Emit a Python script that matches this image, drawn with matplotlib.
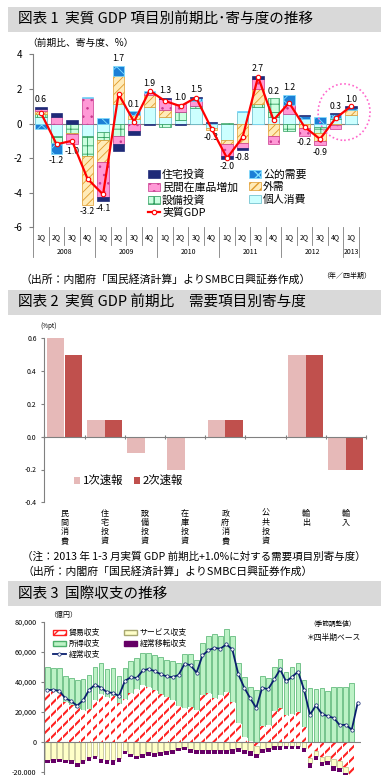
import matplotlib.pyplot as plt
import matplotlib.patches as mpatches
from matplotlib.lines import Line2D
import numpy as np

plt.rcParams['font.family'] = ['Noto Sans CJK JP', 'DejaVu Sans']
plt.rcParams['axes.unicode_minus'] = False

# ---- 図表1: 実質GDP 項目別寄与度 (2008Q1-2013Q1) ----
quarters = ['1Q', '2Q', '3Q', '4Q'] * 5 + ['1Q']
years = ['2008', '2009', '2010', '2011', '2012', '2013']
gdp = [0.6, -1.2, -1.0, -3.2, -4.1, 1.7, 0.1, 1.9, 1.3, 1.0, 1.5,
       -0.3, -2.0, -0.8, 2.7, 0.2, 1.2, -0.2, -0.9, 0.3, 1.0]
consumption = [0.40, -0.70, 0.00, -0.70, -0.50, 1.15, 0.25, 0.95, 0.35, 0.20, 0.90,
               -0.25, -0.95, 0.65, 0.95, 0.40, 0.55, 0.25, -0.20, 0.25, 0.50]
capex = [0.15, -0.45, -0.55, -1.15, -0.45, -0.70, 0.00, 0.00, -0.20, 0.45, 0.10,
         0.00, 0.05, 0.00, 0.20, 1.05, -0.45, 0.00, -0.35, 0.05, 0.00]
net_exports = [0.20, 0.00, -0.05, -2.85, -1.25, 1.60, 0.25, 0.70, 0.45, 0.00, 0.00,
               -0.15, -0.25, -1.10, 0.85, -0.70, 0.00, -0.25, -0.45, -0.10, 0.30]
inventory = [0.10, 0.35, -0.60, 1.50, -2.05, -0.50, -0.45, 0.10, 0.60, 0.45, 0.30,
             0.00, -0.70, -0.30, 0.60, -0.50, 0.50, -0.45, -0.25, -0.20, 0.00]
public = [-0.30, -0.60, 0.00, 0.05, 0.30, 0.60, 0.20, 0.15, 0.00, -0.05, 0.20,
          0.05, 0.00, 0.10, -0.05, 0.00, 0.60, 0.20, 0.35, 0.25, 0.10]
housing = [0.10, 0.25, 0.20, 0.00, -0.25, -0.40, -0.20, -0.10, 0.10, -0.05, 0.05,
           0.05, -0.15, -0.15, 0.15, 0.00, 0.00, 0.05, 0.00, 0.05, 0.10]

# ---- 図表2: 需要項目別寄与度 ----
items = ['民間消費', '住宅投資', '設備投資', '在庫投資', '政府消費', '公共投資', '輸出', '輸入']
prelim = [0.6, 0.1, -0.1, -0.2, 0.1, 0.0, 0.5, -0.2]
revised = [0.5, 0.1, 0.0, 0.0, 0.1, 0.0, 0.5, -0.2]

# ---- 図表3: 国際収支 (2000Q1-2012Q4, 経常収支は2013Q1まで) ----
trade = [34400, 34000, 32700, 26700, 24400, 22700, 21100, 21600, 27800, 31800,
         30000, 30400, 25600, 28200, 32200, 34900, 37800, 36700, 34400, 31800,
         30000, 27800, 23800, 22200, 23300, 21100, 31100, 32200, 28900, 31100,
         32900, 26700, 12200, 3300, 500, -2900, 10400, 11100, 20700, 22700,
         17800, 18400, 20000, 10000, -11000, -6500, -10000, -9500, -11500, -13000,
         -17000, -23000]
income = [15100, 14900, 16200, 17300, 18300, 18400, 20400, 22800, 22200, 20400,
          18200, 18500, 18400, 20700, 21800, 20600, 21500, 22200, 23400, 24900,
          24400, 26200, 28400, 36200, 35100, 33300, 34900, 38200, 43100, 39300,
          42100, 43700, 40500, 40000, 35700, 34400, 33400, 31600, 28800, 32200,
          28900, 31100, 32200, 31000, 36000, 35100, 36000, 34000, 36700, 36700,
          36200, 38900]
services = [-12200, -11800, -11400, -11900, -12300, -14100, -12400, -10500, -9500, -11500,
            -12000, -12500, -10700, -6200, -8300, -9400, -8500, -6900, -7500, -7100,
            -6500, -5700, -4300, -3500, -4900, -5200, -5300, -5300, -5500, -5200,
            -5500, -5100, -4400, -5500, -6300, -5400, -4900, -4100, -3100, -3000,
            -2800, -2800, -2800, -4000, -3500, -3000, -3500, -3200, -4500, -4800,
            -4000, -4000]
transfers = [-2300, -2500, -2400, -2600, -2700, -2900, -2600, -2500, -2000, -2800,
             -2700, -3000, -2600, -1800, -2200, -2400, -2300, -2600, -2500, -2400,
             -2500, -2300, -2200, -2000, -2600, -2800, -2700, -2900, -3000, -2800,
             -3000, -2900, -2600, -3000, -3200, -2800, -2900, -2600, -2400, -2500,
             -2300, -2200, -2300, -2700, -3000, -2700, -3000, -2800, -3300, -2700,
             -2500, -2500]
current = [34500, 34500, 34000, 29000, 27000, 24000, 27500, 34500, 38000, 36000,
           33000, 32500, 30500, 40500, 43000, 42500, 47500, 48500, 47000, 45000,
           43500, 43000, 44500, 52000, 51000, 46000, 57500, 61000, 62500, 62000,
           64900, 61500, 45000, 36000, 28900, 22500, 36000, 35000, 41500, 48200,
           40200, 43200, 46700, 34800, 18000, 24200, 18500, 17000, 15800, 11000,
           11300, 8000, 26000]

W, H = 387, 775
fig = plt.figure(figsize=(W / 100, H / 100), dpi=100)


def rect(x0, y0, x1, y1):
    # pixel box (top-left origin) -> figure fraction
    return [x0 / W, 1 - y1 / H, (x1 - x0) / W, (y1 - y0) / H]


def put(x, y, s, **kw):
    fig.text(x / W, 1 - y / H, s, **kw)


def title_bar(y0, y1, s):
    fig.add_artist(mpatches.Rectangle((8 / W, 1 - y1 / H), 373 / W, (y1 - y0) / H,
                                      transform=fig.transFigure, facecolor='#D9D9D9',
                                      edgecolor='none', zorder=0))
    put(18, (y0 + y1) / 2, s, fontsize=10.5, va='center')


def hatch_width(bars, w):
    for b in bars:
        try:
            b.set_hatch_linewidth(w)
        except AttributeError:
            pass


# ================= 図表1 =================
title_bar(7, 32, '図表 1  実質 GDP 項目別前期比･寄与度の推移')
put(27, 43, '（前期比、寄与度、%）', fontsize=7, va='center')

ax1 = fig.add_axes(rect(33.3, 54.3, 358.8, 227.3))
x1 = np.arange(len(gdp))
styles = [
    ('個人消費', consumption, dict(facecolor='#CCFFFF', edgecolor='#5FB8C8')),
    ('設備投資', capex, dict(facecolor='#CCFFE0', edgecolor='#2E9E5E', hatch='++')),
    ('外需', net_exports, dict(facecolor='#FFEBB8', edgecolor='#E09A2A', hatch='////')),
    ('民間在庫品増加', inventory, dict(facecolor='#FF99D6', edgecolor='#C8388E', hatch='..')),
    ('公的需要', public, dict(facecolor='#1C7FD6', edgecolor='#7FE0FF', hatch='xx')),
    ('住宅投資', housing, dict(facecolor='#1F2A78', edgecolor='#1F2A78')),
]
pos = np.zeros(len(gdp))
neg = np.zeros(len(gdp))
handles = {}
for name, vals, st in styles:
    v = np.array(vals)
    base = np.where(v >= 0, pos, neg)
    m = v != 0
    bars = ax1.bar(x1[m], v[m], bottom=base[m], width=0.75, linewidth=0.5, zorder=2, **st)
    hatch_width(bars, 0.6)
    pos += np.clip(v, 0, None)
    neg += np.clip(v, None, 0)
    handles[name] = mpatches.Patch(label=name, linewidth=0.5, **st)

ax1.plot(x1, gdp, color='#FF0000', lw=1.6, marker='o', ms=3.2, mfc='white',
         mec='#FF0000', mew=0.8, zorder=5)
handles['実質GDP'] = Line2D([], [], color='#FF0000', lw=1.6, marker='o', ms=3.2,
                          mfc='white', mec='#FF0000', mew=0.8, label='実質GDP')

for i, g in enumerate(gdp):
    if g >= 0:
        ax1.text(i, pos[i] + 0.15, f'{g:.1f}', ha='center', va='bottom', fontsize=6.3)
    else:
        ax1.text(i, neg[i] - 0.15, f'{g:.1f}', ha='center', va='top', fontsize=6.3)

ax1.axhline(0, color='#7F7F7F', lw=0.8, zorder=1)
ax1.set_xlim(-0.5, len(gdp) - 0.5)
ax1.set_ylim(-6, 4)
ax1.set_yticks(range(-6, 5, 2))
ax1.set_xticks([])
ax1.tick_params(axis='y', labelsize=7, length=3, color='#7F7F7F', pad=5)
for s in ['top', 'right', 'bottom']:
    ax1.spines[s].set_visible(False)
ax1.spines['left'].set_color('#7F7F7F')

# category table under the plot
tr = ax1.get_xaxis_transform()
n = len(gdp)
for k in range(n + 1):
    low = -0.172 if (k % 4 == 0 or k == n) else -0.105
    ax1.plot([k - 0.5, k - 0.5], [0, low], transform=tr, color='#7F7F7F', lw=0.6, clip_on=False)
for i, q in enumerate(quarters):
    ax1.text(i, -0.056, q, transform=tr, ha='center', va='center', fontsize=5)
for j, y in enumerate(years):
    span = x1[4 * j: 4 * j + 4]
    ax1.text(span.mean(), -0.143, y, transform=tr, ha='center', va='center', fontsize=5)

ax1.add_patch(mpatches.Ellipse((19.55, 0.66), 3.35, 3.26, fill=False, ec='#FF66CC',
                               ls=(0, (1, 1.5)), lw=1.2, clip_on=False, zorder=6))

order = ['住宅投資', '民間在庫品増加', '設備投資', '実質GDP', '公的需要', '外需', '個人消費']
ax1.legend([handles[k] for k in order], order, ncol=2, loc='upper left',
           bbox_to_anchor=(148 / W, 1 - 169 / H), bbox_transform=fig.transFigure,
           frameon=False, fontsize=7.8, handlelength=1.1, handleheight=0.7,
           handletextpad=0.2, columnspacing=1.0, labelspacing=0.22,
           borderpad=0, borderaxespad=0)

put(322, 275.5, '（年／四半期）', fontsize=5, va='center')
put(20, 280, '（出所：内閣府「国民経済計算」よりSMBC日興証券作成）', fontsize=7.8, va='center')

# ================= 図表2 =================
title_bar(290, 315, '図表 2  実質 GDP 前期比　需要項目別寄与度')
put(40, 325.7, '(%pt)', fontsize=4.5, va='center')

ax2 = fig.add_axes(rect(44.3, 338.3, 366, 502.3))
x2 = np.arange(len(items))
ax2.bar(x2 - 0.22, prelim, 0.435, color='#E6B9B8', label='1次速報', zorder=2)
ax2.bar(x2 + 0.22, revised, 0.435, color='#C0504D', label='2次速報', zorder=2)
ax2.set_xlim(-0.5, len(items) - 0.5)
ax2.set_ylim(-0.4, 0.6)
yt = np.arange(-0.4, 0.61, 0.2)
ax2.set_yticks(yt)
ax2.set_yticklabels([f'{v:.1f}' for v in yt])
ax2.tick_params(axis='y', labelsize=5, length=2.5, color='#808080', pad=3)
ax2.spines['bottom'].set_position(('data', 0))
ax2.spines['bottom'].set_color('#808080')
ax2.spines['left'].set_color('#808080')
ax2.spines['top'].set_visible(False)
ax2.spines['right'].set_visible(False)
ax2.set_xticks(np.arange(-0.5, len(items), 1))
ax2.set_xticklabels([])
ax2.tick_params(axis='x', length=3, direction='inout', color='#808080')
for i, name in enumerate(items):
    ax2.text(i, -0.44, '\n'.join(name), ha='center', va='top', fontsize=5.8, linespacing=1.0)
ax2.legend(loc='center left', bbox_to_anchor=(74 / W, 1 - 480.7 / H),
           bbox_transform=fig.transFigure, ncol=2, frameon=False, fontsize=8.2,
           handlelength=0.55, handleheight=0.55, handletextpad=0.25,
           columnspacing=0.9, borderpad=0, borderaxespad=0)

put(22, 557, '（注：2013 年 1-3 月実質 GDP 前期比+1.0%に対する需要項目別寄与度）', fontsize=7.6, va='center')
put(22, 571.7, '（出所：内閣府「国民経済計算」よりSMBC日興証券作成）', fontsize=7.8, va='center')

# ================= 図表3 =================
title_bar(581, 606, '図表 3  国際収支の推移')
put(49, 615, '（億円）', fontsize=5, va='center')
put(309, 624, '（季節調整値）', fontsize=4.8, va='center')
put(307, 637.7, '＊四半期ベース', fontsize=5.6, va='center')

ax3 = fig.add_axes(rect(44.3, 621.7, 360.7, 801.7))
x3 = np.arange(len(trade))
tr_arr = np.array(trade)
pos_tr = np.clip(tr_arr, 0, None)
neg_tr = np.clip(tr_arr, None, 0)
sv = np.array(services)
st_green = dict(facecolor='#BDF2C6', edgecolor='#4CAF6A')
st_trade = dict(facecolor='white', edgecolor='#FF2020', hatch='///')
st_serv = dict(facecolor='#FFFFC8', edgecolor='#A8A870')
st_trans = dict(facecolor='#660066', edgecolor='#660066')
ax3.bar(x3, income, bottom=pos_tr, width=0.8, linewidth=0.5, zorder=2, **st_green)
b = ax3.bar(x3, pos_tr, width=0.8, linewidth=0, zorder=2, **st_trade)
hatch_width(b, 1.5)
b = ax3.bar(x3, neg_tr, width=0.8, linewidth=0, zorder=2, **st_trade)
hatch_width(b, 1.5)
ax3.bar(x3, sv, bottom=neg_tr, width=0.8, linewidth=0.4, zorder=2, **st_serv)
ax3.bar(x3, transfers, bottom=neg_tr + sv, width=0.8, linewidth=0, zorder=2, **st_trans)
ax3.plot(np.arange(len(current)), current, color='#0A1F6E', lw=1.3, marker='o', ms=2.4,
         mfc='white', mec='#0A1F6E', mew=0.5, zorder=4)
ax3.axhline(0, color='#808080', lw=0.8, zorder=3)
ax3.set_xlim(-0.5, len(current) - 0.5)
ax3.set_ylim(-40000, 80000)
yt3 = np.arange(-20000, 80001, 20000)
ax3.set_yticks(yt3)
ax3.set_yticklabels([f'{v:,}' for v in yt3])
ax3.tick_params(axis='y', labelsize=5.2, length=2.5, color='#808080', pad=3)
ax3.set_xticks([])
for s in ['top', 'right', 'bottom']:
    ax3.spines[s].set_visible(False)
ax3.spines['left'].set_color('#808080')

h3 = [mpatches.Patch(label='貿易収支', **st_trade),
      mpatches.Patch(label='所得収支', **st_green),
      Line2D([], [], color='#0A1F6E', lw=1.3, marker='o', ms=2.4, mfc='white',
             mec='#0A1F6E', mew=0.5, label='経常収支'),
      mpatches.Patch(label='サービス収支', **st_serv),
      mpatches.Patch(label='経常移転収支', **st_trans)]
ax3.legend(handles=h3, ncol=2, loc='upper left', bbox_to_anchor=(53 / W, 1 - 628 / H),
           bbox_transform=fig.transFigure, frameon=False, fontsize=5.7,
           handlelength=1.6, handleheight=0.6, handletextpad=0.4, columnspacing=3.0,
           labelspacing=0.25, borderpad=0, borderaxespad=0)

fig.savefig('out.png', dpi=100)
